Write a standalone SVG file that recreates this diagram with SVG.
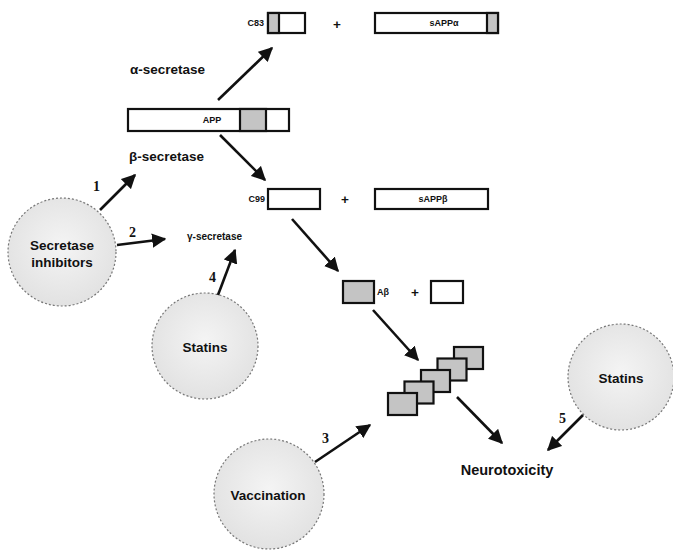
<svg xmlns="http://www.w3.org/2000/svg" width="673" height="550" viewBox="0 0 673 550">
<style>
.lbl{font-family:"Liberation Sans",Arial,sans-serif;font-weight:bold;fill:#111}
.sm{font-size:9px}
.md{font-size:13.5px}
.num{font-family:"Liberation Serif","Times New Roman",serif;font-size:14px;font-weight:bold;fill:#111}
.box{fill:#fff;stroke:#111;stroke-width:2.2}
.gbox{fill:#c4c4c4;stroke:#111;stroke-width:2.2}
.circ{fill:url(#rg);stroke:#777;stroke-width:1.2;stroke-dasharray:2 2}
.arr{stroke:#111;stroke-width:2.6;fill:none;marker-end:url(#ah)}
</style>
<defs>
<radialGradient id="rg" cx="0.5" cy="0.45" r="0.55">
<stop offset="0" stop-color="#f4f4f4"/>
<stop offset="1" stop-color="#e2e2e2"/>
</radialGradient>
<marker id="ah" viewBox="0 0 10 10" refX="9" refY="5" markerWidth="5.5" markerHeight="5.5" orient="auto" markerUnits="strokeWidth">
<path d="M0,0 L10,5 L0,10 z" fill="#111"/>
</marker>
</defs>
<rect width="673" height="550" fill="#fff"/>

<g id="c83">
<text class="lbl sm" x="264" y="26" text-anchor="end">C83</text>
<rect class="box" x="268" y="13" width="37" height="20"/>
<rect class="gbox" x="268" y="13" width="11" height="20"/>
</g>
<text class="lbl md" x="337" y="29" text-anchor="middle">+</text>
<g id="sappa">
<rect class="box" x="375" y="13" width="123" height="20"/>
<rect class="gbox" x="487" y="13" width="11" height="20"/>
<text class="lbl sm" x="444" y="26" text-anchor="middle">sAPPα</text>
</g>
<text class="lbl md" x="130" y="74">α-secretase</text>

<g id="app">
<rect class="box" x="128" y="109" width="161" height="22"/>
<rect class="gbox" x="240" y="109" width="26" height="22"/>
<text class="lbl sm" x="212" y="123" text-anchor="middle">APP</text>
</g>
<text class="lbl md" x="129" y="161">β-secretase</text>

<g id="c99">
<text class="lbl sm" x="265" y="202" text-anchor="end">C99</text>
<rect class="box" x="268" y="189" width="52" height="20"/>
</g>
<text class="lbl md" x="345" y="204" text-anchor="middle">+</text>
<g id="sappb">
<rect class="box" x="375" y="189" width="113" height="20"/>
<text class="lbl sm" x="433" y="202" text-anchor="middle">sAPPβ</text>
</g>
<text class="lbl" font-size="10" x="187" y="240">γ-secretase</text>

<g id="abeta">
<rect class="gbox" x="343" y="281" width="31" height="22"/>
<text class="lbl sm" x="377" y="295">Aβ</text>
<text class="lbl md" x="415" y="297" text-anchor="middle">+</text>
<rect class="box" x="431" y="281" width="32" height="22"/>
</g>

<g id="aggregate">
<rect class="gbox" x="454" y="347" width="29" height="22"/>
<rect class="gbox" x="437.5" y="358.5" width="29" height="22"/>
<rect class="gbox" x="421" y="370" width="29" height="22"/>
<rect class="gbox" x="404.5" y="381.5" width="29" height="22"/>
<rect class="gbox" x="388" y="393" width="29" height="22"/>
</g>

<g id="neurotoxicity">
<text class="lbl" font-size="14.5" x="507" y="475" text-anchor="middle">Neurotoxicity</text>
</g>

<g id="secretase-inhibitors">
<circle class="circ" cx="62" cy="252" r="54"/>
<text class="lbl md" x="62" y="250" text-anchor="middle">Secretase</text>
<text class="lbl md" x="62" y="267" text-anchor="middle">inhibitors</text>
</g>
<g id="statins-left">
<circle class="circ" cx="205" cy="346" r="53"/>
<text class="lbl md" x="205" y="352" text-anchor="middle">Statins</text>
</g>
<g id="statins-right">
<circle class="circ" cx="621" cy="377" r="53"/>
<text class="lbl md" x="621" y="383" text-anchor="middle">Statins</text>
</g>
<g id="vaccination">
<circle class="circ" cx="269" cy="494" r="55"/>
<text class="lbl md" x="268" y="500" text-anchor="middle">Vaccination</text>
</g>

<g id="connectors">
<line class="arr" x1="218" y1="100" x2="272" y2="48"/>
<line class="arr" x1="220" y1="135" x2="265" y2="180"/>
<line class="arr" x1="100" y1="210" x2="135" y2="175"/>
<line class="arr" x1="117" y1="245" x2="165" y2="239"/>
<line class="arr" x1="218" y1="295" x2="235" y2="250"/>
<line class="arr" x1="292" y1="219" x2="338" y2="271"/>
<line class="arr" x1="373" y1="310" x2="418" y2="360"/>
<line class="arr" x1="457" y1="397" x2="502" y2="443"/>
<line class="arr" x1="583" y1="415" x2="548" y2="450"/>
<line class="arr" x1="315" y1="462" x2="370" y2="425"/>
<text class="num" x="93" y="191">1</text>
<text class="num" x="129" y="237">2</text>
<text class="num" x="322" y="443">3</text>
<text class="num" x="209" y="282">4</text>
<text class="num" x="559" y="423">5</text>
</g>
</svg>
